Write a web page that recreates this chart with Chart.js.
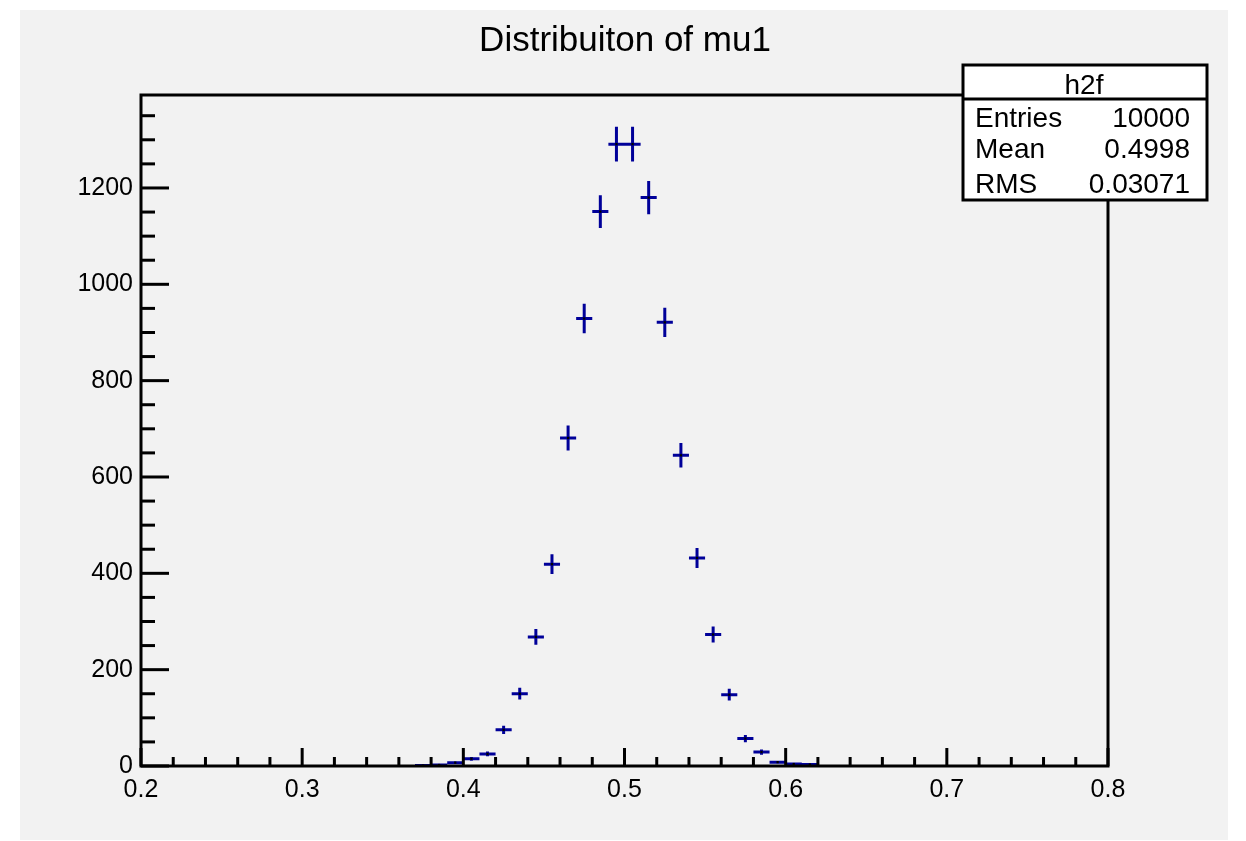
<!DOCTYPE html>
<html>
<head>
<meta charset="utf-8">
<title>Distribuiton of mu1</title>
<script src="https://cdn.jsdelivr.net/npm/chart.js@4/dist/chart.umd.min.js"></script>
<style>
  html, body { margin: 0; padding: 0; background: #ffffff; }
  canvas { display: block; }
</style>
</head>
<body>
<canvas id="my-chart" width="1246" height="841"></canvas>
<script>
// histogram h2f, bin width 0.01
const binCenters = [0.375, 0.385, 0.395, 0.405, 0.415, 0.425, 0.435, 0.445, 0.455, 0.465,
  0.475, 0.485, 0.495, 0.505, 0.515, 0.525, 0.535, 0.545, 0.555, 0.565,
  0.575, 0.585, 0.595, 0.605, 0.615];
const counts = [1, 2, 7, 15, 25, 75, 150, 268, 419, 681,
  929, 1151, 1291, 1291, 1180, 921, 645, 432, 273, 148,
  57, 29, 8, 4, 3];
const errors = [1.0, 1.4, 2.6, 3.9, 5.0, 8.7, 12.2, 16.4, 20.5, 26.1,
  30.5, 33.9, 35.9, 35.9, 34.4, 30.3, 25.4, 20.8, 16.5, 12.2,
  7.5, 5.4, 2.8, 2.0, 1.7];
const binWidth = 0.01;

const xTicks = ["0.2", "0.3", "0.4", "0.5", "0.6", "0.7", "0.8"];
const yTicks = ["0", "200", "400", "600", "800", "1000", "1200"];

const titleText = "Distribuiton of mu1";
const statsName = "h2f";
const statsLabels = ["Entries", "Mean", "RMS"];
const statsValues = ["10000", "0.4998", "0.03071"];

const markColor = "#000099";
const font = "'Liberation Sans', Arial, Helvetica, sans-serif";

// error bar segments, broken with nulls
const segments = [];
binCenters.forEach((c, i) => {
  const n = counts[i];
  const e = errors[i];
  segments.push({ x: c - binWidth / 2, y: n }, { x: c + binWidth / 2, y: n }, { x: c, y: null });
  segments.push({ x: c, y: n - e }, { x: c, y: n + e }, { x: c, y: null });
});
const centers = binCenters.map((c, i) => ({ x: c, y: counts[i] }));

// ROOT style pad: grey canvas, frame, inward ticks, title and stats box
const rootPad = {
  id: "rootPad",
  beforeDraw(chart) {
    const ctx = chart.ctx;
    ctx.save();
    ctx.fillStyle = "#f2f2f2";
    ctx.fillRect(20, 10, 1208, 830);
    ctx.restore();
  },
  afterDraw(chart) {
    const ctx = chart.ctx;
    const area = chart.chartArea;
    const xs = chart.scales.x;
    const ys = chart.scales.y;
    ctx.save();
    ctx.strokeStyle = "#000";
    ctx.lineWidth = 3;

    // ticks on x axis
    for (let k = 0; k <= 30; k++) {
      const v = xs.min + k * 0.02;
      const px = xs.getPixelForValue(v);
      const len = k % 5 === 0 ? 18 : 9;
      ctx.beginPath();
      ctx.moveTo(px, area.bottom);
      ctx.lineTo(px, area.bottom - len);
      ctx.stroke();
    }
    // ticks on y axis
    for (let v = 0; v <= ys.max; v += 50) {
      const py = ys.getPixelForValue(v);
      const len = v % 200 === 0 ? 28 : 14;
      ctx.beginPath();
      ctx.moveTo(area.left, py);
      ctx.lineTo(area.left + len, py);
      ctx.stroke();
    }

    // frame
    ctx.strokeRect(area.left, area.top, area.right - area.left, area.bottom - area.top);

    // title
    ctx.fillStyle = "#000";
    ctx.font = "35px " + font;
    ctx.textAlign = "center";
    ctx.textBaseline = "alphabetic";
    ctx.fillText(titleText, 625, 51);

    // stats box
    ctx.fillStyle = "#fff";
    ctx.fillRect(963, 65, 244, 135);
    ctx.strokeRect(963, 65, 244, 135);
    ctx.beginPath();
    ctx.moveTo(963, 99);
    ctx.lineTo(1207, 99);
    ctx.stroke();
    ctx.fillStyle = "#000";
    ctx.font = "28px " + font;
    ctx.textAlign = "center";
    ctx.fillText(statsName, 1084, 94);
    const rows = [127, 158, 193];
    statsLabels.forEach((lab, i) => {
      ctx.textAlign = "left";
      ctx.fillText(lab, 975, rows[i]);
      ctx.textAlign = "right";
      ctx.fillText(statsValues[i], 1190, rows[i]);
    });
    ctx.restore();
  }
};

const ctx = document.getElementById("my-chart").getContext("2d");

const myChart = new Chart(ctx, {
  type: "scatter",
  data: {
    datasets: [
      {
        label: "centers",
        data: centers,
        pointStyle: "rect",
        pointRadius: 1.6,
        pointBackgroundColor: "#000",
        pointBorderWidth: 0,
        showLine: false,
        order: 0
      },
      {
        label: "h2f",
        data: segments,
        showLine: true,
        spanGaps: false,
        borderColor: markColor,
        borderWidth: 3,
        borderCapStyle: "butt",
        pointRadius: 0,
        order: 1
      }
    ]
  },
  options: {
    responsive: false,
    animation: false,
    layout: { padding: { left: 20, right: 138, top: 95, bottom: 0 } },
    plugins: {
      legend: { display: false },
      tooltip: { enabled: false },
      title: { display: false }
    },
    scales: {
      x: {
        type: "linear",
        min: 0.2,
        max: 0.8,
        afterFit: s => { s.height = 75; },
        afterBuildTicks: s => {
          s.ticks = xTicks.map(t => ({ value: parseFloat(t) }));
        },
        grid: { display: false, drawTicks: false },
        border: { display: false },
        ticks: {
          padding: 9,
          color: "#000",
          font: { family: font, size: 25 },
          maxRotation: 0,
          autoSkip: false,
          callback: (v, i) => xTicks[i]
        }
      },
      y: {
        type: "linear",
        min: 0,
        max: 1393,
        afterFit: s => { s.width = 121; },
        afterBuildTicks: s => {
          s.ticks = yTicks.map(t => ({ value: parseFloat(t) }));
        },
        grid: { display: false, drawTicks: false },
        border: { display: false },
        ticks: {
          padding: 8,
          color: "#000",
          font: { family: font, size: 25 },
          autoSkip: false,
          callback: (v, i) => yTicks[i]
        }
      }
    }
  },
  plugins: [rootPad]
});
</script>
</body>
</html>
